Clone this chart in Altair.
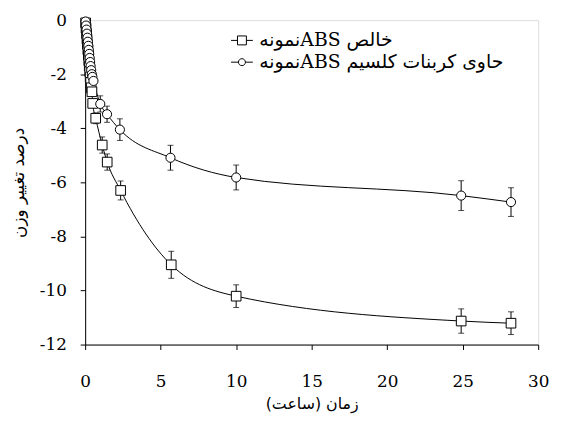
import altair as alt
import pandas as pd

S_PURE = "نمونهABS خالص"
S_CACO3 = "نمونهABS  حاوی کربنات کلسیم"

# pure ABS (squares)
pure_t = [0.03, 0.06, 0.09, 0.12, 0.15, 0.18, 0.21, 0.24, 0.27, 0.30, 0.33, 0.36, 0.40, 0.45, 0.50,
          0.70, 1.13, 1.46, 2.35, 5.70, 10.0, 24.9, 28.2]
pure_y = [-0.1, -0.3, -0.5, -0.7, -0.9, -1.1, -1.3, -1.5, -1.7, -1.9, -2.1, -2.3, -2.5, -2.65, -3.08,
          -3.63, -4.62, -5.25, -6.30, -9.05, -10.21, -11.13, -11.21]
pure_err = [0, 0, 0, 0, 0, 0, 0, 0, 0, 0, 0, 0, 0, 0, 0,
            0.2, 0.3, 0.3, 0.35, 0.5, 0.42, 0.45, 0.42]

# ABS with calcium carbonate (circles)
ca_t = [0.03, 0.06, 0.09, 0.12, 0.15, 0.18, 0.21, 0.24, 0.27, 0.30, 0.33, 0.36, 0.40, 0.44, 0.48, 0.55,
        1.0, 1.45, 2.3, 5.65, 10.0, 24.9, 28.2]
ca_y = [-0.05, -0.2, -0.35, -0.5, -0.65, -0.8, -0.95, -1.1, -1.25, -1.4, -1.55, -1.7, -1.85, -2.0, -2.1, -2.25,
        -3.1, -3.48, -4.05, -5.09, -5.82, -6.49, -6.73]
ca_err = [0, 0, 0, 0, 0, 0, 0, 0, 0, 0, 0, 0, 0, 0, 0, 0,
          0.3, 0.3, 0.4, 0.46, 0.46, 0.55, 0.53]

x_ticks = [0, 5, 10, 15, 20, 25, 30]
y_ticks = [-12, -10, -8, -6, -4, -2, 0]

rows = []
for s, ts, ys, es in [(S_PURE, pure_t, pure_y, pure_err), (S_CACO3, ca_t, ca_y, ca_err)]:
    for t, v, e in zip(ts, ys, es):
        rows.append({"series": s, "t": t, "y": v, "err": e, "lo": v - e, "hi": v + e})
df = pd.DataFrame(rows)
df_err = df[df["err"] > 0]

SERIF = "DejaVu Serif"
ARAB = "DejaVu Sans"

x_axis = alt.Axis(values=x_ticks, title="زمان (ساعت)", grid=False, labelFont=SERIF, labelFontSize=17,
                  labelColor="black", labelPadding=24, tickSize=5, tickColor="black", domainColor="black",
                  titleFont=ARAB, titleFontSize=16, titleFontWeight="normal", titleColor="black",
                  titlePadding=7, labelFlush=False)
y_axis = alt.Axis(values=y_ticks, title="درصد تغییر وزن", grid=False, labelFont=SERIF, labelFontSize=17,
                  labelColor="black", labelPadding=14, tickSize=5, tickColor="black", domainColor="black",
                  titleFont=ARAB, titleFontSize=17, titleFontWeight="normal", titleColor="black",
                  titlePadding=12, labelExpr="replace(datum.label, '−', '-')", labelFlush=False)

xs = alt.Scale(domain=[0, 30], nice=False, zero=False)
ys_ = alt.Scale(domain=[-12, 0], nice=False, zero=False)

X = alt.X("t:Q", scale=xs, axis=x_axis)
Y = alt.Y("y:Q", scale=ys_, axis=y_axis)

line = alt.Chart(df).mark_line(interpolate="monotone", color="black", strokeWidth=1).encode(
    x=X, y=Y, detail="series:N")

rules = alt.Chart(df_err).mark_rule(color="black", strokeWidth=1).encode(
    x=X, y=alt.Y("lo:Q", scale=ys_, axis=y_axis), y2="hi:Q")
cap_lo = alt.Chart(df_err).mark_tick(orient="horizontal", size=6, thickness=1, color="black").encode(
    x=X, y=alt.Y("lo:Q", scale=ys_, axis=y_axis))
cap_hi = alt.Chart(df_err).mark_tick(orient="horizontal", size=6, thickness=1, color="black").encode(
    x=X, y=alt.Y("hi:Q", scale=ys_, axis=y_axis))

pts_sq = alt.Chart(df[df["series"] == S_PURE]).mark_point(
    shape="square", size=95, filled=True, fill="white", stroke="black", strokeWidth=1, opacity=1).encode(x=X, y=Y)
pts_ci = alt.Chart(df[df["series"] == S_CACO3]).mark_point(
    shape="circle", size=85, filled=True, fill="white", stroke="black", strokeWidth=1, opacity=1).encode(x=X, y=Y)

P1 = "M-1,0H-0.41M0.41,0H1M-0.41,-0.41H0.41V0.41H-0.41Z"
P2 = "M-1,0H-0.32M0.32,0H1M0.32,0A0.32,0.32 0 1,1 -0.32,0A0.32,0.32 0 1,1 0.32,0Z"

leg = alt.Chart(df).mark_point(opacity=0).encode(
    x=X, y=Y,
    shape=alt.Shape("series:N", scale=alt.Scale(domain=[S_PURE, S_CACO3], range=[P1, P2]),
                    legend=alt.Legend(orient="none", legendX=147, legendY=9, title=None,
                                      labelFont=SERIF + ", " + ARAB, labelFontSize=19, labelColor="black",
                                      symbolSize=484, symbolStrokeWidth=1, symbolStrokeColor="black",
                                      symbolFillColor="white", symbolOpacity=1, labelOffset=6,
                                      rowPadding=0, padding=0, labelLimit=500)))

chart = alt.layer(line, rules, cap_lo, cap_hi, pts_sq, pts_ci, leg).properties(
    width=458, height=328,
    autosize=alt.AutoSizeParams(type="none"),
    padding={"left": 78, "top": 10, "right": 17, "bottom": 74},
).configure_view(stroke=None).configure(background="white")

chart.save("out.html", embed_options={"renderer": "svg", "actions": False})
